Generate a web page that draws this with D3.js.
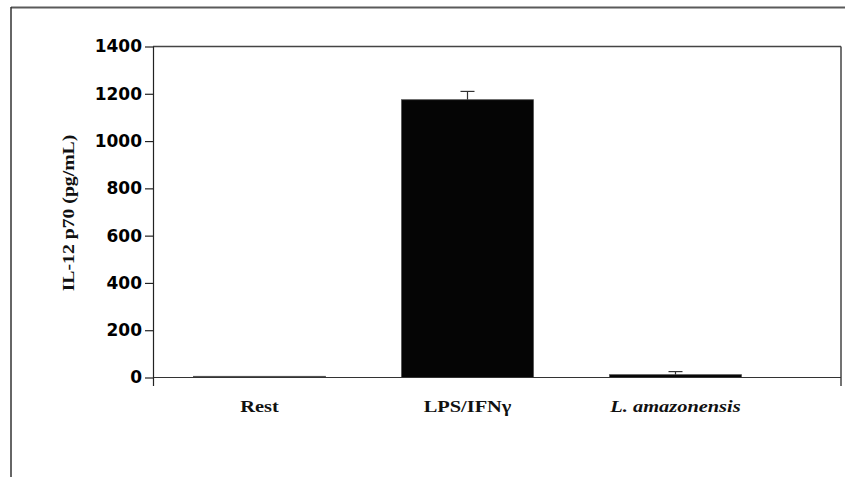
<!DOCTYPE html>
<html>
<head>
<meta charset="utf-8">
<script src="https://cdn.jsdelivr.net/npm/d3@7"></script>
<style>
  html, body { margin: 0; padding: 0; background: #fff; }
  svg { display: block; }
</style>
</head>
<body>
<svg id="chart" width="845" height="477"></svg>
<script>
// IL-12 p70 production by macrophages under each condition
const categories = ["Rest", "LPS/IFNγ", "L. amazonensis"];
const means = [5, 1175, 12];
const errors = [0, 35, 13];
const yTicks = [0, 200, 400, 600, 800, 1000, 1200, 1400];

const svg = d3.select("#chart");
const plot = { left: 153, right: 841, top: 46.5, bottom: 377.5 };

// outer frame (top and left edges)
svg.append("line").attr("x1", 11).attr("x2", 845).attr("y1", 7.5).attr("y2", 7.5)
  .attr("stroke", "#5a5a5a").attr("stroke-width", 2);
svg.append("line").attr("x1", 11).attr("x2", 11).attr("y1", 7).attr("y2", 477)
  .attr("stroke", "#333").attr("stroke-width", 1.5);

const y = d3.scaleLinear().domain([0, 1400]).range([plot.bottom, plot.top]);
const x = d3.scaleBand().domain(categories).range([155.5, 779.5]).paddingInner(0.365).paddingOuter(0.1825);

// plot-area border on top and right
svg.append("line").attr("x1", plot.left).attr("x2", plot.right).attr("y1", plot.top).attr("y2", plot.top)
  .attr("stroke", "#444").attr("stroke-width", 1.5);
svg.append("line").attr("x1", plot.right).attr("x2", plot.right).attr("y1", plot.top).attr("y2", plot.bottom + 8.5)
  .attr("stroke", "#444").attr("stroke-width", 1.5);

// bars
svg.append("g").selectAll("rect").data(categories).join("rect")
  .attr("x", d => x(d))
  .attr("width", x.bandwidth())
  .attr("y", (d, i) => y(means[i]))
  .attr("height", (d, i) => Math.max(0, y(0) - y(means[i])))
  .attr("fill", "#050505")
  .attr("stroke", "#555")
  .attr("stroke-width", 0.8);

// upward error bars
const eb = svg.append("g").attr("stroke", "#333").attr("stroke-width", 1.2);
categories.forEach((c, i) => {
  if (!errors[i]) return;
  const cx = x(c) + x.bandwidth() / 2;
  eb.append("line").attr("x1", cx).attr("x2", cx).attr("y1", y(means[i])).attr("y2", y(means[i] + errors[i]));
  eb.append("line").attr("x1", cx - 7).attr("x2", cx + 7).attr("y1", y(means[i] + errors[i])).attr("y2", y(means[i] + errors[i]));
});

// x axis baseline
svg.append("line").attr("x1", plot.left).attr("x2", plot.right).attr("y1", plot.bottom).attr("y2", plot.bottom)
  .attr("stroke", "#333").attr("stroke-width", 1.2);

// y axis
const yAxis = svg.append("g")
  .attr("transform", `translate(${plot.left},0)`)
  .call(d3.axisLeft(y).tickValues(yTicks).tickFormat(d3.format("d")).tickSize(8).tickPadding(3).tickSizeOuter(0));
yAxis.select(".domain").attr("stroke", "#222").attr("stroke-width", 1.2)
  .attr("d", `M0.5,${plot.top}V${plot.bottom + 8.5}`);
yAxis.selectAll(".tick line").attr("stroke", "#222").attr("stroke-width", 1.2);
yAxis.selectAll(".tick text")
  .attr("fill", "#000")
  .style("font-family", "'DejaVu Sans', sans-serif")
  .style("font-weight", "bold")
  .style("font-size", "17px");

// category labels (slightly wide serif)
svg.append("g").selectAll("text").data(categories).join("text")
  .attr("transform", d => `translate(${x(d) + x.bandwidth() / 2},412) scale(1.2,1)`)
  .attr("text-anchor", "middle")
  .style("font-family", "'Liberation Serif', 'Times New Roman', serif")
  .style("font-weight", "bold")
  .style("font-style", d => d === "L. amazonensis" ? "italic" : "normal")
  .style("font-size", "17px")
  .attr("fill", "#111")
  .text(d => d);

// y axis title
svg.append("text")
  .attr("transform", "translate(74,213) rotate(-90) scale(1.16,1)")
  .attr("text-anchor", "middle")
  .style("font-family", "'Liberation Serif', 'Times New Roman', serif")
  .style("font-weight", "bold")
  .style("font-size", "17px")
  .attr("fill", "#111")
  .text("IL-12 p70 (pg/mL)");
</script>
</body>
</html>
